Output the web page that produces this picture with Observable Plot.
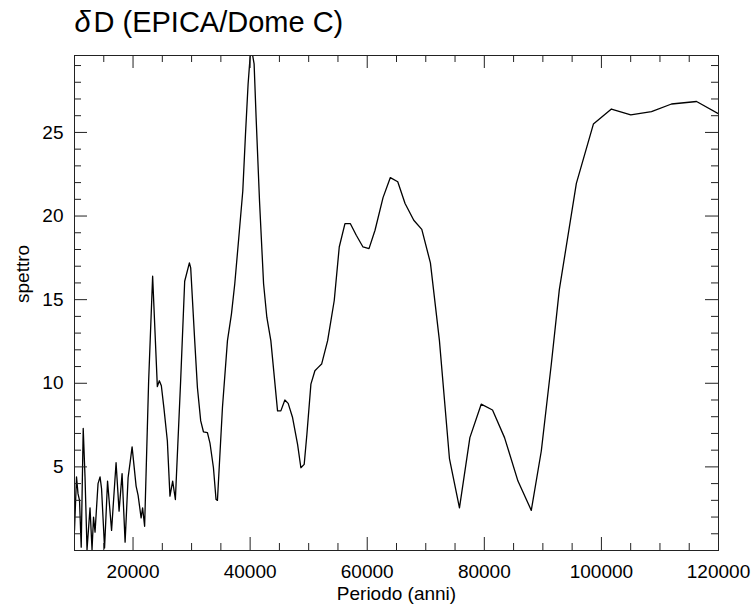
<!DOCTYPE html>
<html><head><meta charset="utf-8">
<script src="https://cdn.jsdelivr.net/npm/d3@7"></script>
<script src="https://cdn.jsdelivr.net/npm/@observablehq/plot@0.6"></script>
<style>body{margin:0;background:#fff}</style>
</head><body><div id="chart"></div>
<script>
// Data
const periodo = [10000,10342,10600,10856,11146,11489,11797,12139,12652,12994,13251,13508,14021,14363,14620,15133,15646,16331,17101,17614,18127,18641,19154,19496,19838,20523,20865,21378,21635,21977,22661,23346,24150,24492,24834,25279,25861,26306,26768,27230,28137,28821,29625,29848,30532,30994,31559,32021,32705,33150,33732,34177,34416,35272,36127,36812,37376,38061,38745,39207,39652,39994,40234,40678,41020,41602,42296,42851,43536,44682,45247,45931,46496,47248,48104,48669,49233,49695,50380,51064,51629,52210,53237,54366,55222,56197,57104,58130,59277,60303,61330,62699,63948,65214,66463,67952,69320,70792,72332,74043,75754,77534,79467,81401,83454,85747,88022,89733,91444,92812,95721,98630,101710,105012,108554,111976,116254,120360];
const spettro = [1.2,4.4,3.4,3.0,0.2,7.3,4.4,0.05,2.55,0.05,2.0,1.1,4.0,4.4,3.7,0.15,4.15,1.2,5.25,2.35,4.6,0.5,4.35,5.25,6.2,3.85,3.3,1.95,2.55,1.45,10.1,16.4,9.8,10.15,9.85,8.5,6.55,3.25,4.15,3.05,10.2,16.1,17.2,16.9,12.55,9.75,7.75,7.1,7.05,6.4,4.95,3.05,3.0,8.55,12.55,14.15,15.95,18.7,21.5,24.9,27.9,29.5,30.0,29.1,25.9,20.9,15.95,13.95,12.55,8.35,8.35,9.0,8.8,7.95,6.35,4.95,5.15,6.95,9.95,10.75,10.95,11.15,12.55,14.95,18.15,19.55,19.55,18.85,18.15,18.05,19.15,21.1,22.3,22.05,20.75,19.75,19.2,17.2,12.55,5.5,2.55,6.75,8.75,8.4,6.75,4.15,2.4,5.95,11.15,15.6,21.95,25.5,26.4,26.05,26.25,26.7,26.85,26.05];
const xTickValues = [20000, 40000, 60000, 80000, 100000, 120000];
const yTickValues = [5, 10, 15, 20, 25];
const titleSymbol = "δ";
const titleText = "D (EPICA/Dome C)";
const xLabel = "Periodo (anni)";
const yLabel = "spettro";

const data = periodo.map((p, i) => ({p, s: spettro[i]}));
const xMinor = d3.range(10000, 120001, 5000).filter(v => !xTickValues.includes(v));
const yMinor = d3.range(1, 30, 1).filter(v => !yTickValues.includes(v));

const W = 755, H = 605, mL = 74, mR = 37, mT = 55, mB = 55;
const fw = W - mL - mR, fh = H - mT - mB;
const font = "'Liberation Sans', Arial, Helvetica, sans-serif";

const chart = Plot.plot({
  width: W, height: H,
  marginLeft: mL, marginRight: mR, marginTop: mT, marginBottom: mB,
  style: {fontFamily: font, fontSize: "19px", color: "#000", background: "#fff", overflow: "visible"},
  x: {domain: [10000, 120000], label: null},
  y: {domain: [0, 29.6], label: null},
  marks: [
    Plot.line(data, {x: "p", y: "s", stroke: "#000", strokeWidth: 1.3, clip: true}),
    // inward ticks on all four sides
    Plot.tickX(xTickValues, {x: d => d, insetTop: fh - 13, stroke: "#222"}),
    Plot.tickX(xTickValues, {x: d => d, insetBottom: fh - 13, stroke: "#222"}),
    Plot.tickX(xMinor, {x: d => d, insetTop: fh - 7, stroke: "#222"}),
    Plot.tickX(xMinor, {x: d => d, insetBottom: fh - 7, stroke: "#222"}),
    Plot.tickY(yTickValues, {y: d => d, insetRight: fw - 13, stroke: "#222"}),
    Plot.tickY(yTickValues, {y: d => d, insetLeft: fw - 13, stroke: "#222"}),
    Plot.tickY(yMinor, {y: d => d, insetRight: fw - 7, stroke: "#222"}),
    Plot.tickY(yMinor, {y: d => d, insetLeft: fw - 7, stroke: "#222"}),
    Plot.frame({stroke: "#222"}),
    Plot.axisX(xTickValues, {tickSize: 0, tickPadding: 14, tickFormat: d => String(d), label: null}),
    Plot.axisY(yTickValues, {tickSize: 0, tickPadding: 11, tickFormat: d => String(d), label: null}),
    Plot.text([yLabel], {text: d => d, frameAnchor: "left", dx: -52, rotate: -90, fontSize: 19}),
    Plot.text([xLabel], {text: d => d, frameAnchor: "bottom", lineAnchor: "bottom", dy: 49, fontSize: 19}),
    Plot.text([titleSymbol], {text: d => d, frameAnchor: "top-left", lineAnchor: "top", textAnchor: "start", dy: -44, fontSize: 29, fontStyle: "italic"}),
    Plot.text([titleText], {text: d => d, frameAnchor: "top-left", lineAnchor: "top", textAnchor: "start", dx: 19, dy: -44, fontSize: 29})
  ]
});
document.getElementById("chart").appendChild(chart);
</script>
</body></html>
